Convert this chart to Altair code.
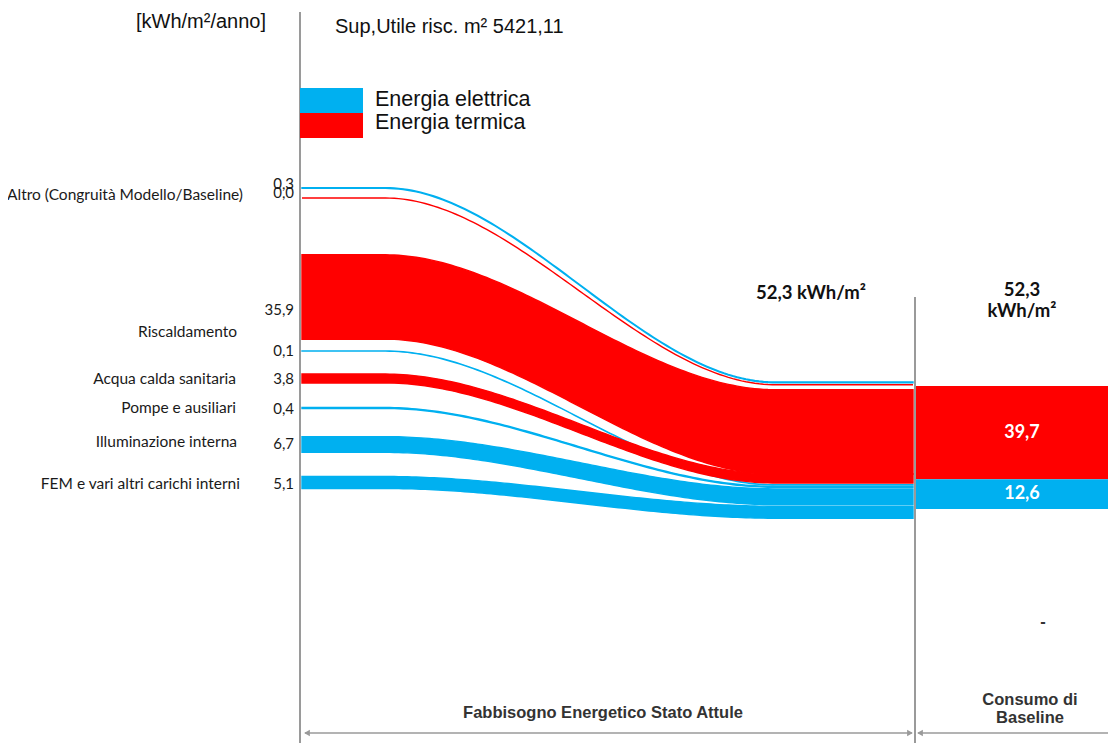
import altair as alt
import pandas as pd
import numpy as np

# ---------------- data ----------------
usi = ["Altro (Congruità Modello/Baseline)", "Altro (Congruità Modello/Baseline)",
       "Riscaldamento", "Riscaldamento", "Acqua calda sanitaria",
       "Pompe e ausiliari", "Illuminazione interna", "FEM e vari altri carichi interni"]
vettori = ["Energia elettrica", "Energia termica", "Energia termica", "Energia elettrica",
           "Energia termica", "Energia elettrica", "Energia elettrica", "Energia elettrica"]
valori = [0.3, 0.0, 35.9, 0.1, 3.8, 0.4, 6.7, 5.1]
etichette_usi = ["Altro (Congruità Modello/Baseline)", "Riscaldamento", "Acqua calda sanitaria",
                 "Pompe e ausiliari", "Illuminazione interna", "FEM e vari altri carichi interni"]
legenda = ["Energia elettrica", "Energia termica"]
unita = "[kWh/m²/anno]"
superficie = "Sup,Utile risc. m² 5421,11"
fasi = ["Fabbisogno Energetico Stato Attule", "Consumo di", "Baseline"]
colori = ["#00B0F0", "#FF0000"]
colori_legenda = ["#00B0F0", "#ED1C24"]

def fmt(v):
    return f"{v:.1f}".replace(".", ",")

# ---------------- layout ----------------
W, H = 1100, 735
K = 2.35                      # pixels per kWh/m²
def Y(px):                    # page pixel -> y-scale unit
    return (px - 8) / K

X0, X1 = 302, 913
XA, XB = 385, 775
left_center = [188, 198, 297, 351, 378.5, 408, 444.5, 482.5]
right_order = [0, 1, 2, 4, 3, 5, 6, 7]
right_gap = [0, 2, 5, 0, 1.8, 1.3, 1.6, 1.6]
right_top = 382
draw_rank = [1, 2, 0, 4, 3, 5, 6, 7]

r_top = {}
cur = Y(right_top)
for idx, g in zip(right_order, right_gap):
    cur += g / K
    r_top[idx] = cur
    cur += valori[idx]

xs_pts = np.linspace(X0, X1, 140)
rows = []
for i, v in enumerate(valori):
    lt = Y(left_center[i]) - v / 2
    rt = r_top[i]
    for x in xs_pts:
        t = min(max((x - XA) / (XB - XA), 0), 1)
        s = t * t * (3 - 2 * t)
        top = lt + (rt - lt) * s
        rows.append({"band": f"b{draw_rank[i]}", "vettore": vettori[i], "uso": usi[i],
                     "x": x, "y": top, "y2": top + v})
flows = pd.DataFrame(rows)

xs = alt.Scale(domain=[8, 1108], nice=False, zero=False)
ys = alt.Scale(domain=[0, H / K], reverse=True, nice=False, zero=False)
col = alt.Scale(domain=legenda, range=colori)

X = lambda f: alt.X(f, type="quantitative", scale=xs, axis=None)
YY = lambda f: alt.Y(f, type="quantitative", scale=ys, axis=None)

flow_layer = alt.Chart(flows).mark_area(strokeWidth=1.4, interpolate="linear").encode(
    x=X("x"), y=YY("y"), y2="y2", detail="band:N",
    fill=alt.Fill("vettore:N", scale=col, legend=None),
    stroke=alt.Stroke("vettore:N", scale=col, legend=None),
)

# right bar (totals)
tot_t = sum(v for v, c in zip(valori, vettori) if c == "Energia termica")
tot_e = sum(v for v, c in zip(valori, vettori) if c == "Energia elettrica")
tot = tot_t + tot_e
bar_top = Y(386)
bars = pd.DataFrame({
    "vettore": ["Energia termica", "Energia elettrica"],
    "valore": [tot_t, tot_e],
    "y": [bar_top, bar_top + tot_t],
    "y2": [bar_top + tot_t, bar_top + tot_t + tot_e],
    "x": [916, 916], "x2": [1108, 1108],
})
bars["yc"] = (bars["y"] + bars["y2"]) / 2
bars["lab"] = bars["valore"].map(fmt)
bars["xc"] = 1022
bar_layer = alt.Chart(bars).mark_rect().encode(
    x=X("x"), x2="x2", y=YY("y"), y2="y2",
    color=alt.Color("vettore:N", scale=col, legend=None))
bar_text = alt.Chart(bars).mark_text(font="Lato", fontWeight="bold", fontSize=18,
                                     color="white", baseline="middle").encode(
    x=X("xc"), y=YY("yc"), text="lab:N")

# legend boxes
leg = pd.DataFrame({"vettore": legenda, "x": [300, 300], "x2": [363, 363],
                    "y": [Y(88), Y(113)], "y2": [Y(113), Y(138)],
                    "tx": [375, 375], "ty": [Y(100), Y(123)]})
leg_layer = alt.Chart(leg).mark_rect().encode(
    x=X("x"), x2="x2", y=YY("y"), y2="y2",
    color=alt.Color("vettore:N", scale=alt.Scale(domain=legenda, range=colori_legenda), legend=None))
leg_text = alt.Chart(leg).mark_text(font="Liberation Sans", fontSize=21.5, align="left",
                                    baseline="middle", color="#111").encode(
    x=X("tx"), y=YY("ty"), text="vettore:N")

# gray lines
rules = pd.DataFrame({
    "x": [300, 915, 305, 918],
    "x2": [300, 915, 912, 1110],
    "y": [Y(12), Y(297), Y(733), Y(733)],
    "y2": [Y(752), Y(752), Y(733), Y(733)],
    "w": [2, 2, 1.6, 1.6],
})
rule_layer = alt.Chart(rules).mark_rule(color="#9A9A9A").encode(
    x=X("x"), x2="x2", y=YY("y"), y2="y2", strokeWidth=alt.StrokeWidth("w:Q", scale=None))
arrows = pd.DataFrame({"x": [307, 910, 920], "y": [Y(733)] * 3,
                       "shape": ["triangle-left", "triangle-right", "triangle-left"]})
arrow_layer = alt.Chart(arrows).mark_point(filled=True, size=45, color="#9A9A9A", opacity=1).encode(
    x=X("x"), y=YY("y"), shape=alt.Shape("shape:N", scale=None))

# left labels
cat = pd.DataFrame({"t": etichette_usi,
                    "x": [243, 237, 236, 236, 237, 240],
                    "y": [Y(195), Y(332), Y(379), Y(408), Y(442), Y(484)]})
cat_text = alt.Chart(cat).mark_text(font="Lato", fontSize=15.5, align="right",
                                    baseline="middle", color="#1a1a1a").encode(
    x=X("x"), y=YY("y"), text="t:N")
val_y = [184, 193, 310, 351, 379, 409, 444, 484]
vals = pd.DataFrame({"t": [fmt(v) for v in valori], "x": [294] * 8, "y": [Y(p) for p in val_y]})
val_text = alt.Chart(vals).mark_text(font="Lato", fontSize=15, align="right",
                                     baseline="middle", color="#1a1a1a").encode(
    x=X("x"), y=YY("y"), text="t:N")

# header texts
head = pd.DataFrame({"t": [unita, superficie], "x": [201, 335], "y": [Y(22), Y(27)]})
head1 = alt.Chart(head.iloc[[0]]).mark_text(font="Liberation Sans", fontSize=20, align="center",
                                            baseline="middle", color="#111").encode(
    x=X("x"), y=YY("y"), text="t:N")
head2 = alt.Chart(head.iloc[[1]]).mark_text(font="Liberation Sans", fontSize=20, align="left",
                                            baseline="middle", color="#111").encode(
    x=X("x"), y=YY("y"), text="t:N")

# totals
tots = pd.DataFrame({"t": [f"{fmt(tot)} kWh/m²", fmt(tot), "kWh/m²"],
                     "x": [811, 1022, 1022], "y": [Y(293), Y(290), Y(311)]})
tot_text = alt.Chart(tots).mark_text(font="Lato", fontWeight="bold", fontSize=18.5,
                                     baseline="middle", color="#111").encode(
    x=X("x"), y=YY("y"), text="t:N")

# bottom phase labels
ph = pd.DataFrame({"t": fasi + ["-"], "x": [603, 1030, 1030, 1043],
                   "y": [Y(713), Y(700), Y(718), Y(622)]})
ph_text = alt.Chart(ph).mark_text(font="Liberation Sans", fontWeight="bold", fontSize=16.5,
                                  baseline="middle", color="#333").encode(
    x=X("x"), y=YY("y"), text="t:N")

chart = alt.layer(
    rule_layer, arrow_layer, flow_layer, bar_layer, bar_text, leg_layer, leg_text,
    cat_text, val_text, head1, head2, tot_text, ph_text
).properties(
    width=W, height=H, padding=0,
    autosize=alt.AutoSizeParams(type="none"),
).configure_view(stroke=None)

chart.save("out.html", embed_options={"renderer": "svg", "actions": False})
